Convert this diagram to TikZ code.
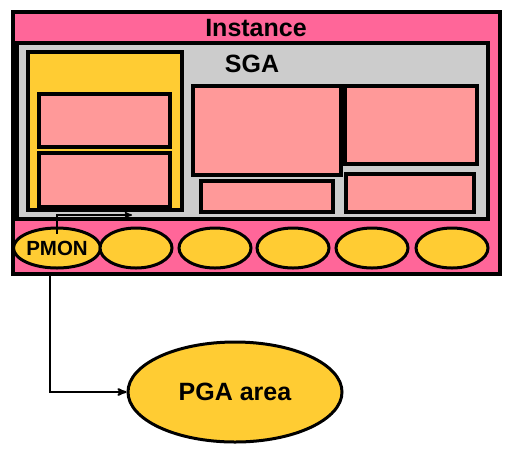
\documentclass[tikz,border=0pt]{standalone}
\usepackage{fontspec}
\setmainfont{Liberation Sans}
\usetikzlibrary{arrows,shapes.geometric,positioning}

\definecolor{instpink}{RGB}{255,102,153}
\definecolor{sgagray}{RGB}{204,204,204}
\definecolor{procyellow}{RGB}{255,204,51}
\definecolor{bufpink}{RGB}{255,153,153}

\begin{document}
\begin{tikzpicture}[x=1pt,y=-1pt,>=stealth',
    box/.style={draw,rectangle,line width=3.3pt,inner sep=0pt},
    buf/.style={box,fill=bufpink},
    proc/.style={draw,ellipse,fill=procyellow,line width=3pt,inner sep=0pt,
                 minimum width=72pt,minimum height=40pt},
    lbl/.style={font=\bfseries\fontsize{25}{25}\selectfont}]
			\useasboundingbox (0,0) rectangle (513,451);
			% instance and SGA
			\node[box, line width=4pt, fill=instpink, minimum width=487pt, minimum height=262pt] (inst) at (256.5,143) {};
			\node[lbl] (instlbl) at (256,28) {Instance};
			\node[box, fill=sgagray, minimum width=471pt, minimum height=176pt] (sga) at (252.5,131) {};
			\node[lbl] (sgalbl) at (252,64) {SGA};
			% buffer cache
			\node[box, fill=procyellow, minimum width=154pt, minimum height=158pt] (cache) at (105,131) {};
			\node[buf, minimum width=131pt, minimum height=53pt] (cache1) at (104.5,120.5) {};
			\node[buf, minimum width=131pt, minimum height=54pt] (cache2) at (104.5,180) {};
			% other pools
			\node[buf, minimum width=148pt, minimum height=89pt] (pool1) at (267,130.5) {};
			\node[buf, minimum width=132pt, minimum height=31pt] (pool2) at (267,196.5) {};
			\node[buf, minimum width=132pt, minimum height=78pt] (pool3) at (411,125) {};
			\node[buf, minimum width=128pt, minimum height=38pt] (pool4) at (410,193) {};
			% background processes
			\node[proc, font=\bfseries\fontsize{20.5}{20.5}\selectfont] (pmon) at (57,248) {PMON};
			\node[proc] (bg1) at (136,248) {};
			\node[proc] (bg2) at (215,248) {};
			\node[proc] (bg3) at (293,248) {};
			\node[proc] (bg4) at (372,248) {};
			\node[proc] (bg5) at (452,248) {};
			% PGA
			\node[proc, lbl, minimum width=214pt, minimum height=100pt] (pga) at (235,392) {PGA area};
			\coordinate (cachein) at (132,215);
			\coordinate (tap) at (50,276);
			\draw[->, line width=1.5pt] ([yshift=-7pt]pmon.north) |- (cachein);
			\draw[->, line width=2pt] (tap) |- (pga.west);
		\end{tikzpicture}
\end{document}
